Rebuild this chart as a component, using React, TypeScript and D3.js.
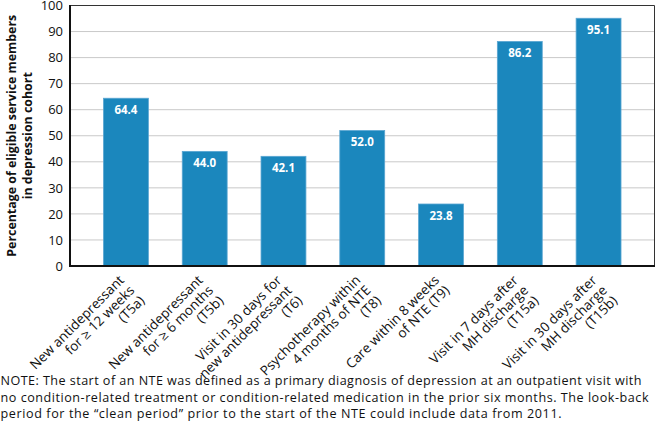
import React from "react";
import * as d3 from "d3";

const categories: string[][] = [
  ["New antidepressant", "for ≥ 12 weeks", "(T5a)"],
  ["New antidepressant", "for ≥ 6 months", "(T5b)"],
  ["Visit in 30 days for", "new antidepressant", "(T6)"],
  ["Psychotherapy within", "4 months of NTE", "(T8)"],
  ["Care within 8 weeks", "of NTE (T9)"],
  ["Visit in 7 days after", "MH discharge", "(T15a)"],
  ["Visit in 30 days after", "MH discharge", "(T15b)"],
];
const values: number[] = [64.4, 44.0, 42.1, 52.0, 23.8, 86.2, 95.1];
const yTicks: number[] = [0, 10, 20, 30, 40, 50, 60, 70, 80, 90, 100];
const yTitle: string[] = ["Percentage of eligible service members", "in depression cohort"];
const note: string[] = [
  "NOTE: The start of an NTE was defined as a primary diagnosis of depression at an outpatient visit with",
  "no condition-related treatment or condition-related medication in the prior six months. The look-back",
  "period for the \u201Cclean period\u201D prior to the start of the NTE could include data from 2011.",
];

const W = 655;
const H = 441;
const left = 70;
const right = 654.5;
const top = 5.5;
const bottom = 266;
const FONT = "'Open Sans', 'Noto Sans', sans-serif";

export default function App() {
  const x = d3
    .scaleBand<number>()
    .domain(values.map((_, i) => i))
    .range([left, right])
    .paddingInner(0.43)
    .paddingOuter(0.425);
  const y = d3.scaleLinear().domain([0, 100]).range([bottom, top]);
  const noteLens = [641, 648, 561];

  return (
    <svg
      width={W}
      height={H}
      style={{ position: "absolute", left: 0, top: 0, background: "#fff" }}
      fontFamily={FONT}
    >
      <rect x={0} y={0} width={W} height={H} fill="#fff" />
      {yTicks
        .filter((t) => t > 0 && t < 100)
        .map((t) => (
          <line
            key={"g" + t}
            x1={left}
            x2={right}
            y1={y(t)}
            y2={y(t)}
            stroke="#c9c9c9"
            strokeWidth={1}
          />
        ))}
      <line x1={left} x2={right} y1={y(100)} y2={y(100)} stroke="#333" strokeWidth={1} />
      <line x1={right} x2={right} y1={y(100)} y2={y(0)} stroke="#333" strokeWidth={1} />
      {values.map((v, i) => (
        <g key={"b" + i}>
          <rect
            x={x(i)!}
            y={y(v)}
            width={x.bandwidth()}
            height={y(0) - y(v)}
            fill="#1b87bd"
            stroke="#5aa6d2"
            strokeWidth={0.8}
          />
          <text
            x={x(i)! + x.bandwidth() / 2}
            y={y(v) + 15.5}
            textAnchor="middle"
            fill="#fff"
            fontWeight="bold"
            fontSize={11.5}
          >
            {v.toFixed(1)}
          </text>
        </g>
      ))}
      <line x1={left} x2={left} y1={y(100) - 0.5} y2={y(0) + 1} stroke="#111" strokeWidth={2} />
      <line x1={left - 1} x2={right + 0.5} y1={y(0)} y2={y(0)} stroke="#111" strokeWidth={2} />
      {yTicks.map((t) => (
        <text
          key={"t" + t}
          x={63}
          y={y(t)}
          dy="0.36em"
          textAnchor="end"
          fontSize={13}
          fill="#111"
        >
          {t}
        </text>
      ))}
      <g transform={`translate(0, ${(top + bottom) / 2}) rotate(-90)`}>
        {yTitle.map((s, i) => (
          <text
            key={"yt" + i}
            x={0}
            y={16 + i * 15.5}
            textAnchor="middle"
            fontWeight="bold"
            fontSize={12.4}
            fill="#111"
          >
            {s}
          </text>
        ))}
      </g>
      {categories.map((lines, i) => {
        const cx = x(i)! + x.bandwidth() / 2;
        return (
          <g key={"xl" + i} transform={`translate(${cx - 1}, 281) rotate(-45)`}>
            {lines.map((s, j) => (
              <text
                key={j}
                x={0}
                y={j * 14.5}
                textAnchor="end"
                fontSize={13.5}
                fill="#111"
              >
                {s}
              </text>
            ))}
          </g>
        );
      })}
      {note.map((s, i) => (
        <text
          key={"n" + i}
          x={0.5}
          y={385 + i * 16.5}
          fontSize={12.6}
          fill="#111"
          textLength={noteLens[i]}
          lengthAdjust="spacing"
        >
          {s}
        </text>
      ))}
    </svg>
  );
}
